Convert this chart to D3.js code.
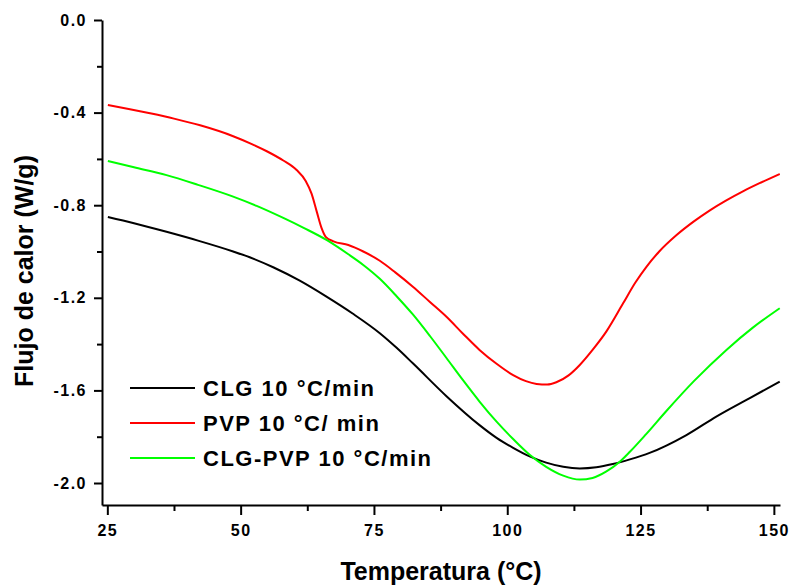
<!DOCTYPE html>
<html>
<head>
<meta charset="utf-8">
<script src="https://cdn.jsdelivr.net/npm/d3@7"></script>
<style>
  body { margin: 0; background: #fff; }
  svg text { font-family: "Liberation Sans", Arial, sans-serif; font-weight: bold; fill: #000; }
</style>
</head>
<body>
<div id="chart"></div>
<script>
// DSC curves: temperature (°C) and heat flow (W/g)
var tempCLG = [25.1, 30, 36.1, 42, 48.6, 51.7, 56.1, 61, 66.1, 71, 76.1, 79.2, 82.3, 88.6, 94.8, 98, 101.1, 104.2, 107.3, 110.5, 113.6, 116.7, 119.8, 123, 126.7, 133.6, 139.2, 145.4, 151.1];
var fluxCLG = [-0.851, -0.878, -0.915, -0.953, -1.000, -1.025, -1.068, -1.125, -1.195, -1.268, -1.353, -1.415, -1.483, -1.625, -1.750, -1.805, -1.848, -1.885, -1.912, -1.930, -1.937, -1.932, -1.918, -1.898, -1.870, -1.793, -1.713, -1.634, -1.562];

var tempPVP = [25.1, 29, 33, 37.5, 42.4, 48.6, 52, 55, 58, 60.5, 62.2, 63.3, 64.3, 65.2, 66.0, 67.4, 70.2, 73, 76.1, 79, 82.3, 85.5, 88.6, 91.7, 94.8, 98, 101.1, 103.5, 105.5, 107.5, 109.2, 111.5, 113.6, 116, 118.6, 121.7, 124, 126.1, 128.5, 131.7, 135, 138, 141, 144.2, 147.5, 151.1];
var fluxPVP = [-0.367, -0.384, -0.403, -0.426, -0.455, -0.502, -0.535, -0.568, -0.607, -0.648, -0.695, -0.750, -0.830, -0.900, -0.938, -0.956, -0.972, -1.000, -1.040, -1.090, -1.152, -1.218, -1.282, -1.355, -1.425, -1.485, -1.534, -1.560, -1.572, -1.575, -1.565, -1.535, -1.490, -1.425, -1.345, -1.225, -1.135, -1.066, -1.000, -0.930, -0.870, -0.822, -0.780, -0.740, -0.703, -0.665];

var tempMix = [25.1, 30, 36.1, 42, 48.6, 53, 58, 62, 66.1, 70.2, 73, 76.1, 79.2, 82.3, 85.5, 88.6, 91.7, 94.8, 98, 101.1, 104.2, 107.3, 110.5, 113.6, 116, 118.6, 121.1, 123, 126, 129.8, 135, 141.1, 146, 151.1];
var fluxMix = [-0.609, -0.636, -0.670, -0.712, -0.763, -0.803, -0.855, -0.900, -0.950, -1.012, -1.058, -1.118, -1.192, -1.272, -1.365, -1.460, -1.556, -1.648, -1.735, -1.810, -1.878, -1.930, -1.968, -1.985, -1.978, -1.950, -1.908, -1.865, -1.790, -1.690, -1.560, -1.425, -1.330, -1.245];

var seriesNames = ["CLG 10 °C/min", "PVP 10 °C/ min", "CLG-PVP 10 °C/min"];
var seriesColors = ["#000000", "#ff0000", "#00ff00"];

var xTicks = [25, 50, 75, 100, 125, 150];
var xMinor = [37.5, 62.5, 87.5, 112.5, 137.5];
var yTicks = [0, -0.4, -0.8, -1.2, -1.6, -2.0];
var yMinor = [-0.2, -0.6, -1.0, -1.4, -1.8];

// set the dimensions of the drawing (plot box edges)
var width = 790, height = 586;
var plotLeft = 102, plotRight = 780, plotTop = 20, plotBottom = 505;

var svg = d3.select('#chart').append('svg')
            .attr('width', width)
            .attr('height', height);

var x = d3.scaleLinear().domain([24.0, 151.15]).range([plotLeft, plotRight]);
var y = d3.scaleLinear().domain([-2.095, 0]).range([plotBottom, plotTop]);

// minor ticks first, then major axes on top
svg.append('g').attr('transform', 'translate(0,' + plotBottom + ')')
   .call(d3.axisBottom(x).tickValues(xMinor).tickSize(6).tickFormat(''))
   .call(function(g){ g.select('.domain').remove(); });
svg.append('g').attr('transform', 'translate(' + plotLeft + ',0)')
   .call(d3.axisLeft(y).tickValues(yMinor).tickSize(5).tickFormat(''))
   .call(function(g){ g.select('.domain').remove(); });

svg.append('g').attr('transform', 'translate(0,' + plotBottom + ')')
   .call(d3.axisBottom(x).tickValues(xTicks).tickSize(10).tickSizeOuter(0).tickPadding(10));
svg.append('g').attr('transform', 'translate(' + plotLeft + ',0)')
   .call(d3.axisLeft(y).tickValues(yTicks).tickSize(8).tickSizeOuter(0).tickPadding(7)
         .tickFormat(function(d){ return d.toFixed(1); }));

svg.selectAll('.domain, .tick line').attr('stroke', '#000').attr('stroke-width', 2);
svg.selectAll('.tick text')
   .style('font-size', '16px')
   .style('letter-spacing', '1.5px')
   .attr('fill', '#000');

// the curves
var line = d3.line()
    .x(function(d){ return x(d.t); })
    .y(function(d){ return y(d.v); })
    .curve(d3.curveMonotoneX);

var series = [
  {temp: tempCLG, flux: fluxCLG},
  {temp: tempPVP, flux: fluxPVP},
  {temp: tempMix, flux: fluxMix}
];

series.forEach(function(s, i){
  var pts = s.temp.map(function(t, j){ return {t: t, v: s.flux[j]}; });
  svg.append('path')
     .datum(pts)
     .attr('fill', 'none')
     .attr('stroke', seriesColors[i])
     .attr('stroke-width', 2)
     .attr('d', line);
});

// legend
var legend = svg.append('g');
seriesNames.forEach(function(name, i){
  var ly = 388 + i * 35;
  legend.append('line')
     .attr('x1', 130).attr('x2', 195)
     .attr('y1', ly).attr('y2', ly)
     .attr('stroke', seriesColors[i]).attr('stroke-width', 2);
  legend.append('text')
     .attr('x', 203).attr('y', ly + 8)
     .style('font-size', '22px')
     .style('letter-spacing', '1.5px')
     .text(name);
});

// axis titles
svg.append('text')
   .attr('x', 441).attr('y', 580)
   .attr('text-anchor', 'middle')
   .style('font-size', '25px')
   .text('Temperatura (°C)');

svg.append('text')
   .attr('transform', 'translate(33,271) rotate(-90)')
   .attr('text-anchor', 'middle')
   .style('font-size', '25px')
   .text('Flujo de calor (W/g)');
</script>
</body>
</html>
